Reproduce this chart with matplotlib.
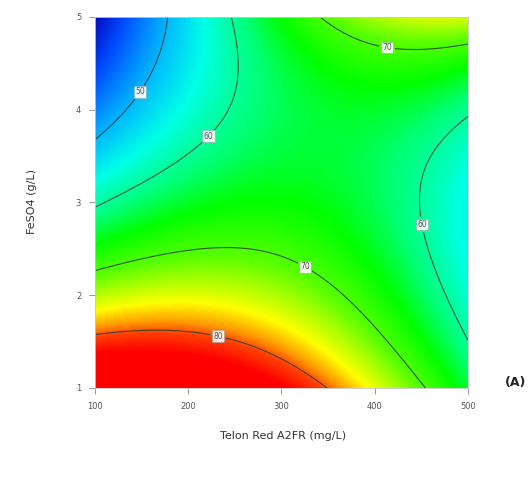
import numpy as np
import matplotlib
matplotlib.use("Agg")
import matplotlib.pyplot as plt
from matplotlib.colors import LinearSegmentedColormap, Normalize

# Response-surface model in coded factors A (Telon Red) and B (FeSO4)
# terms: 1, A, B, AB, A^2, B^2, A^2B, AB^2, A^3, B^3
model_coef = [66.13, -1.34, -11.09, 15.75, -8.86, 8.57, -1.74, 5.96, -0.67, 2.63]
dye_range = [100, 500]          # mg/L
feso4_range = [1, 5]            # g/L
x_ticks = [100, 200, 300, 400, 500]
y_ticks = [1, 2, 3, 4, 5]
contour_levels = [50, 60, 70, 80]
label_points = [(150, 4.18), (230, 3.63), (444, 2.75), (331, 2.41), (415, 4.77), (231, 1.51)]

# colour stops (response value, rgb)
color_values = [35, 42, 50, 56, 62, 66, 71, 76.5, 79, 80.5, 83]
color_rgbs = [(0, 0, 0.72), (0, 0.3, 1), (0, 0.72, 1), (0, 1, 0.9), (0, 1, 0.45),
              (0, 1, 0), (0.35, 1, 0), (1, 1, 0), (1, 0.6, 0), (1, 0.25, 0), (1, 0, 0)]


def response(x, y):
    a = (x - np.mean(dye_range)) / (np.diff(dye_range)[0] / 2)
    b = (y - np.mean(feso4_range)) / (np.diff(feso4_range)[0] / 2)
    t = [np.ones_like(a), a, b, a * b, a**2, b**2, a**2 * b, a * b**2, a**3, b**3]
    return sum(c * ti for c, ti in zip(model_coef, t))


vmin, vmax = color_values[0], color_values[-1]
cmap = LinearSegmentedColormap.from_list(
    "rsm", [((v - vmin) / (vmax - vmin), c) for v, c in zip(color_values, color_rgbs)])

fig = plt.figure(figsize=(5.31, 4.80), dpi=100)
ax = fig.add_axes([0.179, 0.1917, 0.702, 0.773])

x = np.linspace(*dye_range, 300)
y = np.linspace(*feso4_range, 300)
X, Y = np.meshgrid(x, y)
Z = response(X, Y)

ax.imshow(Z, origin="lower", extent=(*dye_range, *feso4_range), aspect="auto",
          cmap=cmap, norm=Normalize(vmin, vmax), interpolation="bilinear")
cs = ax.contour(X, Y, Z, levels=contour_levels, colors="#2b3a2b", linewidths=0.8, alpha=0.85)
labels = ax.clabel(cs, fmt="%d", fontsize=5.5, manual=label_points, inline=True, inline_spacing=3)
for t in labels:
    t.set_rotation(0)
    t.set_color("#555555")
    t.set_bbox(dict(facecolor="white", edgecolor="#999999", linewidth=0.4, pad=1.0, alpha=0.9))

ax.set_xlim(*dye_range)
ax.set_ylim(*feso4_range)
ax.set_xticks(x_ticks)
ax.set_yticks(y_ticks)
ax.tick_params(direction="out", length=4, width=0.6, colors="#888888", labelsize=6,
               labelcolor="#555555", pad=6)
for s in ax.spines.values():
    s.set_color("#c8c8c8")
    s.set_linewidth(0.6)

fig.text(0.533, 0.092, "Telon Red A2FR (mg/L)", ha="center", va="center", fontsize=8, color="#333333")
fig.text(0.06, 0.58, "FeSO4 (g/L)", ha="center", va="center", rotation=90, fontsize=8, color="#333333")
fig.text(0.97, 0.204, "(A)", ha="center", va="center", fontsize=9, fontweight="bold", color="#222222")

fig.savefig("out.png", dpi=100)
